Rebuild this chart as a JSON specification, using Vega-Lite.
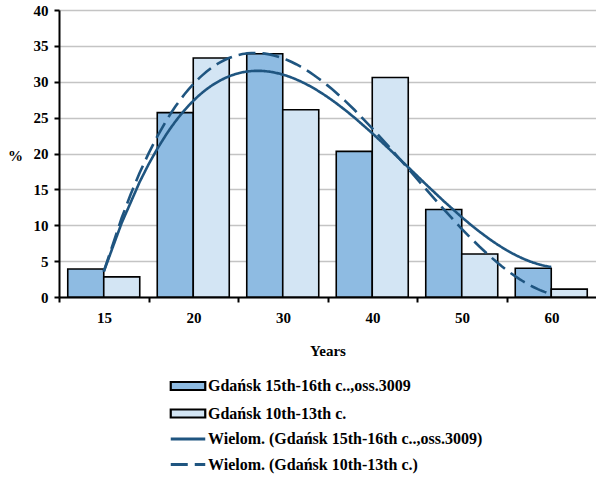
{
  "$schema": "https://vega.github.io/schema/vega-lite/v6.json",
  "autosize": "none",
  "width": 537,
  "height": 287,
  "padding": {"left": 59, "top": 10, "right": 0, "bottom": 182},
  "background": "white",
  "config": {
    "view": {"stroke": null},
    "font": "Liberation Serif, serif",
    "axis": {
      "labelFont": "Liberation Serif, serif", "labelFontWeight": "bold", "labelFontSize": 15, "labelColor": "black",
      "titleFont": "Liberation Serif, serif", "titleFontWeight": "bold", "titleFontSize": 15, "titleColor": "black",
      "domainColor": "black", "domainWidth": 2, "tickColor": "black", "tickWidth": 2,
      "gridColor": "#c4c4c4", "gridWidth": 1.5
    },
    "legend": {
      "labelFont": "Liberation Serif, serif", "labelFontWeight": "bold", "labelFontSize": 16, "labelColor": "black", "labelLimit": 0
    }
  },
  "data": {
    "values": [
      {"cat": "15", "idx": 1, "series": "Gdańsk 15th-16th c..,oss.3009", "trend": "Wielom. (Gdańsk 15th-16th c..,oss.3009)", "v": 3.9},
      {"cat": "15", "idx": 1, "series": "Gdańsk 10th-13th c.", "trend": "Wielom. (Gdańsk 10th-13th c.)", "v": 2.8},
      {"cat": "20", "idx": 2, "series": "Gdańsk 15th-16th c..,oss.3009", "trend": "Wielom. (Gdańsk 15th-16th c..,oss.3009)", "v": 25.7},
      {"cat": "20", "idx": 2, "series": "Gdańsk 10th-13th c.", "trend": "Wielom. (Gdańsk 10th-13th c.)", "v": 33.3},
      {"cat": "30", "idx": 3, "series": "Gdańsk 15th-16th c..,oss.3009", "trend": "Wielom. (Gdańsk 15th-16th c..,oss.3009)", "v": 33.9},
      {"cat": "30", "idx": 3, "series": "Gdańsk 10th-13th c.", "trend": "Wielom. (Gdańsk 10th-13th c.)", "v": 26.1},
      {"cat": "40", "idx": 4, "series": "Gdańsk 15th-16th c..,oss.3009", "trend": "Wielom. (Gdańsk 15th-16th c..,oss.3009)", "v": 20.3},
      {"cat": "40", "idx": 4, "series": "Gdańsk 10th-13th c.", "trend": "Wielom. (Gdańsk 10th-13th c.)", "v": 30.6},
      {"cat": "50", "idx": 5, "series": "Gdańsk 15th-16th c..,oss.3009", "trend": "Wielom. (Gdańsk 15th-16th c..,oss.3009)", "v": 12.2},
      {"cat": "50", "idx": 5, "series": "Gdańsk 10th-13th c.", "trend": "Wielom. (Gdańsk 10th-13th c.)", "v": 6.0},
      {"cat": "60", "idx": 6, "series": "Gdańsk 15th-16th c..,oss.3009", "trend": "Wielom. (Gdańsk 15th-16th c..,oss.3009)", "v": 4.0},
      {"cat": "60", "idx": 6, "series": "Gdańsk 10th-13th c.", "trend": "Wielom. (Gdańsk 10th-13th c.)", "v": 1.1}
    ]
  },
  "encoding": {
    "x": {
      "field": "idx", "type": "quantitative",
      "scale": {"domain": [0.5, 6.5], "nice": false, "zero": false, "padding": 0},
      "axis": {
        "title": "Years", "values": [0.5, 1.5, 2.5, 3.5, 4.5, 5.5],
        "labelExpr": "['15','20','30','40','50','60'][floor(datum.value)]",
        "labelOffset": 45, "labelFlush": false, "labelBound": false, "labelOverlap": false,
        "tickSize": 5, "labelPadding": 8, "titlePadding": 18, "grid": false
      }
    },
    "y": {
      "field": "v", "type": "quantitative", "stack": null,
      "scale": {"domain": [0, 40], "nice": false},
      "axis": {
        "values": [0, 5, 10, 15, 20, 25, 30, 35, 40], "grid": true, "tickSize": 5, "labelPadding": 6,
        "title": "%", "titleAngle": 0, "titleAlign": "center", "titleBaseline": "middle",
        "titleX": -44, "titleY": 145
      }
    }
  },
  "layer": [
    {
      "encoding": {
        "fill": {
          "field": "series", "type": "nominal",
          "scale": {"domain": ["Gdańsk 15th-16th c..,oss.3009", "Gdańsk 10th-13th c."], "range": ["#8EBBE2", "#D3E5F4"]},
          "legend": {
            "title": null, "orient": "none", "legendX": 121, "legendY": 368, "direction": "vertical",
            "symbolSize": 100, "labelOffset": 12, "rowPadding": 9.5, "labelLimit": 0,
            "symbolStrokeColor": "black", "symbolStrokeWidth": 2.2,
            "encode": {
              "symbols": {
                "update": {
                  "shape": {"value": "M-3.45,-0.8H3.45V0.8H-3.45Z"},
                  "stroke": {"value": "black"},
                  "strokeWidth": {"value": 2.2},
                  "size": {"value": 100},
                  "opacity": {"value": 1},
                  "fillOpacity": {"value": 1},
                  "strokeOpacity": {"value": 1}
                }
              }
            }
          }
        }
      },
      "layer": [
        {
          "transform": [{"filter": "datum.series === 'Gdańsk 15th-16th c..,oss.3009'"}],
          "mark": {"type": "bar", "stroke": "black", "strokeWidth": 1.6, "width": 36, "xOffset": -18}
        },
        {
          "transform": [{"filter": "datum.series === 'Gdańsk 10th-13th c.'"}],
          "mark": {"type": "bar", "stroke": "black", "strokeWidth": 1.6, "width": 36, "xOffset": 18}
        }
      ]
    },
    {
      "transform": [
        {"regression": "v", "on": "idx", "groupby": ["trend"], "method": "poly", "order": 3}
      ],
      "mark": {"type": "line", "strokeWidth": 2.6},
      "encoding": {
        "stroke": {
          "field": "trend", "type": "nominal",
          "scale": {"domain": ["Wielom. (Gdańsk 15th-16th c..,oss.3009)", "Wielom. (Gdańsk 10th-13th c.)"], "range": ["#1F5580", "#1F5580"]},
          "legend": {
            "title": null, "orient": "none", "legendX": 121, "legendY": 421, "direction": "vertical",
            "symbolSize": 100, "labelOffset": 12, "rowPadding": 9.5, "labelLimit": 0,
            "encode": {
              "symbols": {
                "update": {
                  "shape": {"value": "M-3.45,0H3.45"},
                  "fill": {"value": "transparent"},
                  "strokeWidth": {"value": 3},
                  "strokeDash": {"signal": "datum.index == 1 ? [22, 8, 3, 100] : [1, 0]"},
                  "size": {"value": 100},
                  "opacity": {"value": 1},
                  "strokeOpacity": {"value": 1}
                }
              }
            }
          }
        },
        "strokeDash": {
          "field": "trend", "type": "nominal",
          "scale": {"domain": ["Wielom. (Gdańsk 15th-16th c..,oss.3009)", "Wielom. (Gdańsk 10th-13th c.)"], "range": [[1, 0], [17, 7]]},
          "legend": null
        }
      }
    }
  ]
}
